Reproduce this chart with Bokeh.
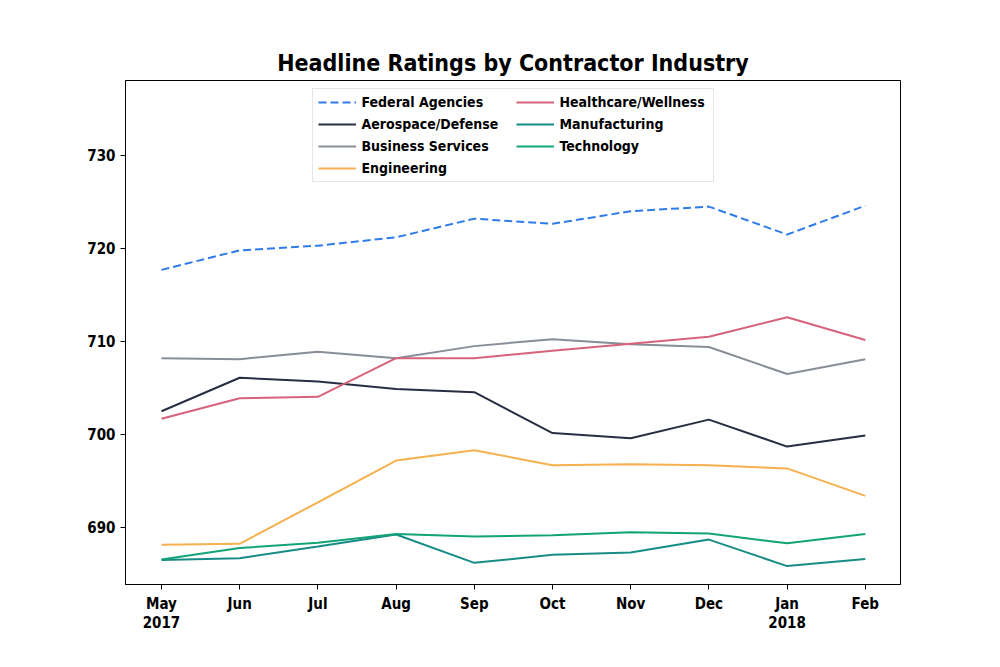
from bokeh.plotting import figure
from bokeh.models import Range1d, FixedTicker, Legend, LegendItem
from bokeh.embed import file_html
from bokeh.resources import INLINE

months = ["May\n2017", "Jun", "Jul", "Aug", "Sep", "Oct", "Nov", "Dec", "Jan\n2018", "Feb"]
federal = [717.7, 719.8, 720.3, 721.2, 723.2, 722.65, 724.0, 724.5, 721.5, 724.6]
aerospace = [702.5, 706.1, 705.7, 704.9, 704.55, 700.15, 699.6, 701.6, 698.7, 699.9]
business = [708.2, 708.1, 708.9, 708.2, 709.5, 710.25, 709.7, 709.4, 706.5, 708.1]
engineering = [688.15, 688.25, 692.7, 697.2, 698.3, 696.7, 696.8, 696.7, 696.35, 693.4]
healthcare = [701.7, 703.9, 704.05, 708.2, 708.2, 709.0, 709.75, 710.5, 712.6, 710.15]
manufacturing = [686.5, 686.7, 687.96, 689.25, 686.2, 687.06, 687.3, 688.7, 685.85, 686.6]
technology = [686.56, 687.8, 688.35, 689.3, 689.03, 689.17, 689.5, 689.35, 688.3, 689.3]

x = list(range(len(months)))
FONT = "DejaVu Sans Condensed"

p = figure(width=984, height=651, output_backend="svg", toolbar_location=None,
           x_range=Range1d(-0.46, 9.45), y_range=Range1d(683.87, 738.06),
           min_border_left=125, min_border_right=84, min_border_bottom=67, min_border_top=80,
           title="Headline Ratings by Contractor Industry")
p.title.align = "center"
p.title.text_font = FONT
p.title.text_font_size = "23px"
p.title.text_font_style = "bold"
p.title.text_color = "#000000"

p.grid.visible = False
p.outline_line_color = "#000000"
p.outline_line_width = 1
p.background_fill_color = "white"
p.border_fill_color = "white"

p.xaxis.ticker = FixedTicker(ticks=x)
p.xaxis.major_label_overrides = {i: m for i, m in enumerate(months)}
p.yaxis.ticker = FixedTicker(ticks=[690, 700, 710, 720, 730])
for ax in (p.xaxis, p.yaxis):
    ax.major_tick_in = 0
    ax.major_tick_out = 5
    ax.minor_tick_line_color = None
    ax.axis_line_color = "#000000"
    ax.major_tick_line_color = "#000000"
    ax.major_label_text_font = FONT
    ax.major_label_text_font_size = "15px"
    ax.major_label_text_font_style = "bold"
    ax.major_label_text_color = "#000000"
    ax.major_label_text_line_height = 1.1
    ax.major_label_standoff = 5

series = [
    ("Federal Agencies", federal, "#2f7be8", "8 4"),
    ("Aerospace/Defense", aerospace, "#282e42", "solid"),
    ("Business Services", business, "#878e98", "solid"),
    ("Engineering", engineering, "#f6b04f", "solid"),
    ("Healthcare/Wellness", healthcare, "#d6637a", "solid"),
    ("Manufacturing", manufacturing, "#178c87", "solid"),
    ("Technology", technology, "#12a377", "solid"),
]
items = []
for name, ys, color, dash in series:
    r = p.line(x, ys, line_color=color, line_width=2, line_dash=dash)
    items.append(LegendItem(label=name, renderers=[r]))

legend = Legend(items=items, location="top_center", nrows=4, orientation="vertical",
                label_text_font=FONT, label_text_font_size="14px", label_text_font_style="bold",
                label_text_color="#000000",
                glyph_width=38, glyph_height=16, label_standoff=6, spacing=6, padding=5,
                margin=8, border_line_color="#cccccc", border_line_width=1,
                background_fill_alpha=1.0, label_height=16, label_width=148)
p.add_layout(legend, "center")

open("out.html", "w").write(file_html(p, INLINE))
